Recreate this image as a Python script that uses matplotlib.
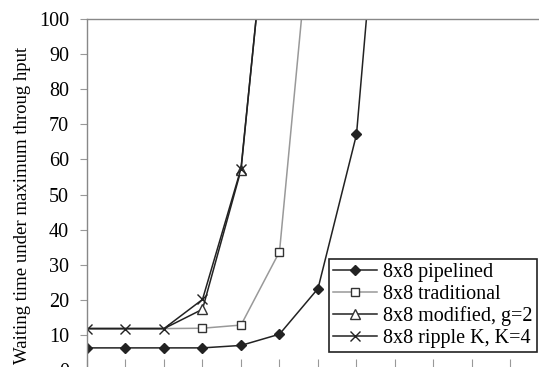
import numpy as np
import matplotlib
matplotlib.use("Agg")
from matplotlib import pyplot as plt

plt.rcParams['font.family'] = ['Liberation Serif', 'DejaVu Serif']

# data (values above 100 run off the top)
x_idx       = [0, 1, 2, 3, 4, 5, 6, 7, 8]
pipelined   = [6.3, 6.3, 6.3, 6.3, 7.0, 10.2, 23.2, 67.1, 195]
traditional = [11.8, 11.8, 11.8, 11.9, 12.8, 33.7, 150]
modified    = [11.8, 11.8, 11.8, 17.3, 57.0, 167]
ripple      = [11.8, 11.8, 11.8, 20.1, 57.4, 166]
labels = ["8x8 pipelined", "8x8 traditional", "8x8 modified, g=2", "8x8 ripple K, K=4"]
yticks = list(range(0, 101, 10))

fig = plt.figure(figsize=(5.39, 3.67), dpi=100)
ax = fig.add_axes([87/539, -3/367, 462/539, 351/367])

ax.plot(x_idx[:len(pipelined)], pipelined, color='#222222', lw=1.1,
        marker='D', ms=5.5, mfc='#222222', mec='#222222', label=labels[0])
ax.plot(x_idx[:len(traditional)], traditional, color='#999999', lw=1.1,
        marker='s', ms=6, mfc='white', mec='#333333', mew=1,
        markevery=slice(3, None), label=labels[1])
ax.plot(x_idx[:len(modified)], modified, color='#222222', lw=1.1,
        marker='^', ms=6.5, mfc='white', mec='#333333', mew=1,
        markevery=slice(3, None), label=labels[2])
ax.plot(x_idx[:len(ripple)], ripple, color='#222222', lw=1.1,
        marker='x', ms=7, mec='#222222', mew=1, label=labels[3])

ax.set_xlim(0, 12)
ax.set_ylim(0, 100)
ax.set_xticks(range(0, 12))
ax.set_xticklabels([])
ax.set_yticks(yticks)
ax.set_yticklabels([str(v) for v in yticks], fontsize=14.5)
ax.tick_params(axis='x', direction='in', length=8, color='#999999')
ax.tick_params(axis='y', direction='out', length=5, color='#999999', pad=8)
for s in ax.spines.values():
    s.set_color('#888888')
    s.set_linewidth(1)

ax.set_ylabel("Waiting time under maximum throug hput", fontsize=13.5)
ax.yaxis.set_label_coords(-0.122, 0.47)

leg = ax.legend(loc='lower left', bbox_to_anchor=(0.523, 0.052), fontsize=14.5,
                frameon=True, fancybox=False, framealpha=1, edgecolor='#222222',
                handlelength=2.2, handletextpad=0.3, labelspacing=0.12,
                borderpad=0.2, borderaxespad=0)
leg.get_frame().set_linewidth(1.2)

fig.savefig("out.png", dpi=100)
